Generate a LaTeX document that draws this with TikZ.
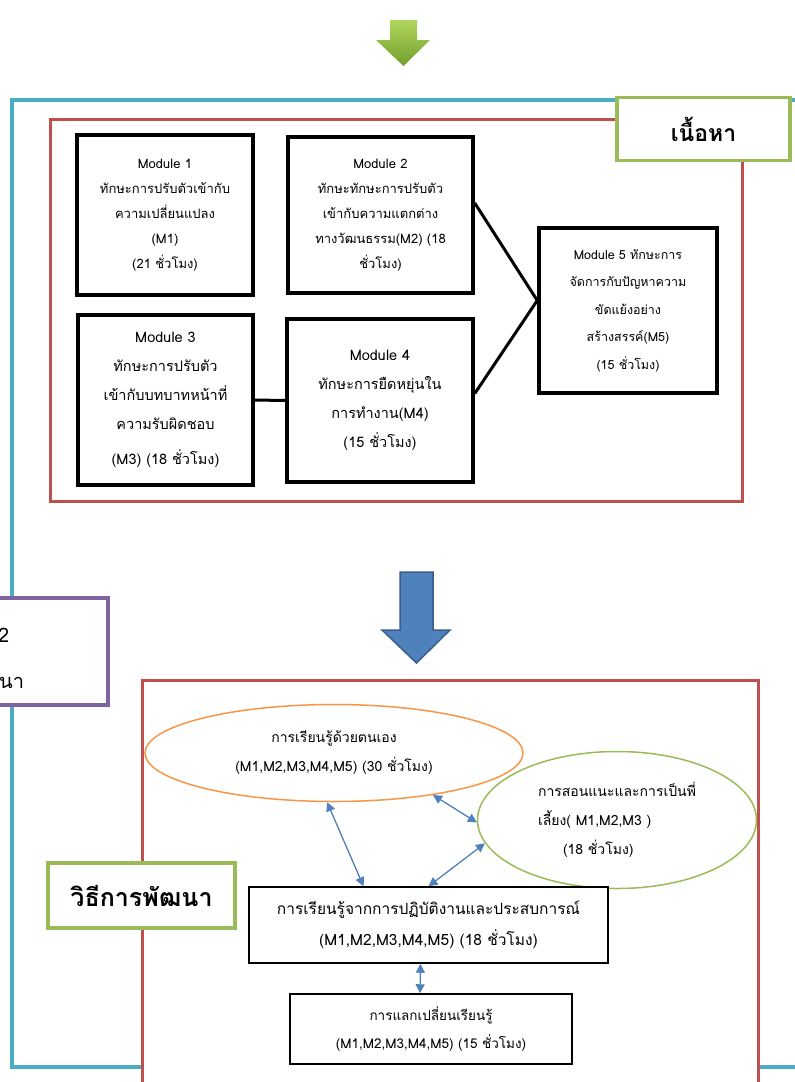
\documentclass[tikz,border=0pt]{standalone}
\usepackage{fontspec}
\setmainfont[Script=Thai]{Loma}
\usepackage{tikz}
\usetikzlibrary{shapes.geometric,arrows.meta}
\definecolor{frameblue}{RGB}{75,172,198}
\definecolor{framered}{RGB}{192,80,77}
\definecolor{framegreen}{RGB}{155,187,89}
\definecolor{framepurple}{RGB}{128,100,162}
\definecolor{frameorange}{RGB}{247,150,70}
\definecolor{arrowblue}{RGB}{79,129,189}
\definecolor{arrowblueedge}{RGB}{56,93,138}
\definecolor{greenlight}{RGB}{178,214,92}
\definecolor{greendark}{RGB}{112,160,44}

\tikzset{
  modbox/.style={draw, line width=3.5pt, fill=white, align=center, inner sep=0pt,
    font=\fontsize{13}{25}\selectfont},
  bigmodbox/.style={modbox, font=\fontsize{14.5}{29}\selectfont},
  labelbox/.style={draw=framegreen, line width=3.5pt, fill=white, font=\bfseries},
  stepbox/.style={draw, line width=1.5pt, fill=white, align=center,
    font=\fontsize{15.5}{31}\selectfont},
  bubble/.style={ellipse, line width=1.5pt, inner sep=0pt,
    font=\fontsize{14}{29}\selectfont},
  link/.style={arrowblue, line width=1.3pt,
    {Triangle[length=9pt,width=9pt]}-{Triangle[length=9pt,width=9pt]}}
}

\begin{document}
\begin{tikzpicture}[x=1pt, y=-1pt]
    \useasboundingbox (0,0) rectangle (795,1082);

    % green arrow on top
    \shade [top color=greenlight, bottom color=greendark]
      (390,20) -- (417,20) -- (417,40) -- (430,40) -- (403.5,66)
      -- (376,40) -- (390,40) -- cycle;

    % outer frame
    \draw [frameblue, line width=3.5pt] (12,100) rectangle (812,1067);

    % content part
    \draw [framered, line width=3pt] (50,119) rectangle (742,501);
    \node [labelbox, minimum width=173pt, minimum height=63pt] (content)
      at (703.5,129) {\fontsize{23}{27}\selectfont เนื้อหา};

    \node [modbox, minimum width=176pt, minimum height=160pt] (m1) at (165,215)
      {Module 1\\ทักษะการปรับตัวเข้ากับ\\ความเปลี่ยนแปลง\\(M1)\\(21 ชั่วโมง)};
    \node [modbox, minimum width=185pt, minimum height=156pt] (m2) at (380.5,215)
      {Module 2\\ทักษะทักษะการปรับตัว\\เข้ากับความแตกต่าง\\ทางวัฒนธรรม(M2) (18\\ชั่วโมง)};
    \node [bigmodbox, minimum width=175pt, minimum height=170pt] (m3) at (165.5,400)
      {Module 3\\ทักษะการปรับตัว\\เข้ากับบทบาทหน้าที่\\ความรับผิดชอบ\\[6pt](M3) (18 ชั่วโมง)};
    \node [bigmodbox, minimum width=186pt, minimum height=163pt] (m4) at (380,400.5)
      {Module 4\\ทักษะการยืดหยุ่นใน\\การทำงาน(M4)\\(15 ชั่วโมง)};
    \node [modbox, font=\fontsize{12.5}{27.5}\selectfont, minimum width=178pt,
      minimum height=165pt] (m5) at (628,310.5)
      {Module 5 ทักษะการ\\จัดการกับปัญหาความ\\ขัดแย้งอย่าง\\สร้างสรรค์(M5)\\(15 ชั่วโมง)};

    \draw [line width=3pt] (m3.east) -- (m4.west);
    \draw [line width=3pt] ([yshift=12pt]m2.east) -- ([yshift=10pt]m5.west);
    \draw [line width=3pt] ([yshift=7pt]m4.east) -- ([yshift=10pt]m5.west);

    % phase box at the left edge
    \draw [framepurple, line width=3.5pt, fill=white] (-20,598) rectangle (108,705);
    \node [anchor=west, inner sep=0pt, font=\fontsize{20}{24}\selectfont] (phase)
      at (-2,635) {2};
    \node [anchor=west, inner sep=0pt, font=\fontsize{20}{24}\selectfont] (phasetail)
      at (-1,683) {นา};

    % blue arrow
    \filldraw [fill=arrowblue, draw=arrowblueedge, line width=1.5pt]
      (400,572) -- (433,572) -- (433,630) -- (450,630) -- (416.5,663)
      -- (382,630) -- (400,630) -- cycle;

    % development part
    \draw [framered, line width=3pt, fill=white] (142,680) rectangle (758,1100);
    \node [labelbox, minimum width=187pt, minimum height=65pt] (method)
      at (141.5,895.5) {\fontsize{25}{29}\selectfont วิธีการพัฒนา};

    \node [bubble, draw=frameorange, minimum width=378pt, minimum height=97pt,
      align=center] (self) at (334,753)
      {การเรียนรู้ด้วยตนเอง\\(M1,M2,M3,M4,M5) (30 ชั่วโมง)};
    \node [bubble, draw=framegreen, minimum width=279pt, minimum height=137pt,
      align=left] (mentor) at (617,820)
      {การสอนแนะและการเป็นพี่\\เลี้ยง( M1,M2,M3 )\\\hspace{25pt}(18 ชั่วโมง)};
    \node [stepbox, minimum width=359pt, minimum height=76pt] (practice) at (428.5,925)
      {การเรียนรู้จากการปฏิบัติงานและประสบการณ์\\(M1,M2,M3,M4,M5) (18 ชั่วโมง)};
    \node [stepbox, font=\fontsize{13.5}{28}\selectfont, minimum width=282pt,
      minimum height=70pt] (exchange) at (431,1029)
      {การแลกเปลี่ยนเรียนรู้\\(M1,M2,M3,M4,M5) (15 ชั่วโมง)};

    \draw [link] (self.-98) -- ([xshift=-65pt]practice.north);
    \draw [link] (self.-23) -- (mentor.181);
    \draw [link] (mentor.-170) -- (practice.north);
    \draw [link] ([xshift=-8pt]practice.south) -- ([xshift=-11pt]exchange.north);
\end{tikzpicture}
\end{document}
